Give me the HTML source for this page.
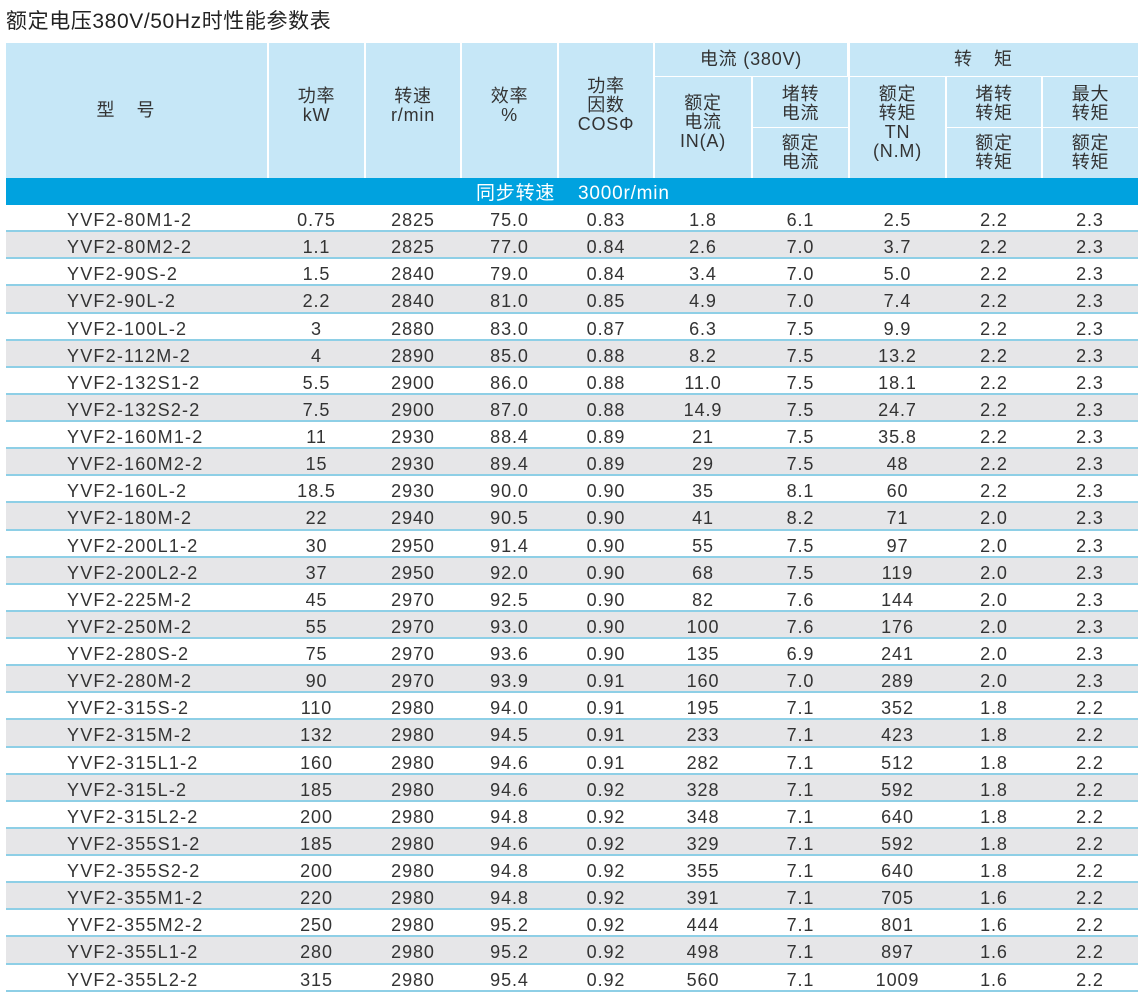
<!DOCTYPE html>
<html><head><meta charset="utf-8"><style>
*{margin:0;padding:0;box-sizing:border-box}
body{width:1144px;height:1000px;background:#fff;font-family:"Liberation Sans","Noto Sans CJK SC",sans-serif;color:#333;position:relative;overflow:hidden}
.title{position:absolute;left:6px;top:5px;font-size:21px;color:#222;letter-spacing:0.6px}
.hc{position:absolute;background:#c6e7f7;display:flex;align-items:center;justify-content:center;text-align:center;font-size:18px;line-height:19px;color:#333;letter-spacing:0.8px}
.band{position:absolute;left:6px;top:178px;width:1132px;height:27px;background:#00a2df;color:#fff;font-size:19px;line-height:32px;letter-spacing:0.8px}
.band span{position:absolute}
.rows{position:absolute;left:6px;top:205px;width:1132px}
.r{display:flex;height:27.14px;border-bottom:2px solid #8ecfe6;font-size:18px;letter-spacing:0.9px;line-height:30px;overflow:hidden}
.r:nth-child(even){background:#e6e6e8}
.r span{text-align:center;flex:none}
.r span:nth-child(1){width:262px;text-align:left;padding-left:61px;letter-spacing:1.2px}
.r span:nth-child(2){width:97px}.r span:nth-child(3){width:96px}.r span:nth-child(4){width:97px}.r span:nth-child(5){width:96px}.r span:nth-child(6){width:98px}.r span:nth-child(7){width:97px}.r span:nth-child(8){width:97px}.r span:nth-child(9){width:96px}.r span:nth-child(10){width:96px}
</style></head><body>
<div class="title">额定电压380V/50Hz时性能参数表</div>
<div class="hc" style="left:6px;top:43px;width:261px;height:135px;letter-spacing:22px">型号</div>
<div class="hc" style="left:269px;top:43px;width:95px;height:135px;padding-bottom:10px">功率<br>kW</div>
<div class="hc" style="left:366px;top:43px;width:94px;height:135px;padding-bottom:10px">转速<br>r/min</div>
<div class="hc" style="left:462px;top:43px;width:95px;height:135px;padding-bottom:10px">效率<br>%</div>
<div class="hc" style="left:559px;top:43px;width:94px;height:135px;padding-bottom:10px">功率<br>因数<br>COSΦ</div>
<div class="hc" style="left:655px;top:43px;width:192px;height:33px">电流 (380V)</div>
<div class="hc" style="left:850px;top:43px;width:288px;height:33px;letter-spacing:22px">转矩</div>
<div class="hc" style="left:655px;top:77px;width:96px;height:101px;padding-bottom:10px">额定<br>电流<br>IN(A)</div>
<div class="hc" style="left:753px;top:77px;width:95px;height:50px;padding-top:4px">堵转<br>电流</div>
<div class="hc" style="left:753px;top:128px;width:95px;height:50px">额定<br>电流</div>
<div class="hc" style="left:850px;top:77px;width:95px;height:101px;padding-bottom:10px">额定<br>转矩<br>TN<br>(N.M)</div>
<div class="hc" style="left:947px;top:77px;width:94px;height:50px;padding-top:4px">堵转<br>转矩</div>
<div class="hc" style="left:947px;top:128px;width:94px;height:50px">额定<br>转矩</div>
<div class="hc" style="left:1043px;top:77px;width:95px;height:50px;padding-top:4px">最大<br>转矩</div>
<div class="hc" style="left:1043px;top:128px;width:95px;height:50px">额定<br>转矩</div>
<div class="band"><span style="left:470px">同步转速</span><span style="left:572px">3000r/min</span></div>
<div class="rows">
<div class="r"><span>YVF2-80M1-2</span><span>0.75</span><span>2825</span><span>75.0</span><span>0.83</span><span>1.8</span><span>6.1</span><span>2.5</span><span>2.2</span><span>2.3</span></div>
<div class="r"><span>YVF2-80M2-2</span><span>1.1</span><span>2825</span><span>77.0</span><span>0.84</span><span>2.6</span><span>7.0</span><span>3.7</span><span>2.2</span><span>2.3</span></div>
<div class="r"><span>YVF2-90S-2</span><span>1.5</span><span>2840</span><span>79.0</span><span>0.84</span><span>3.4</span><span>7.0</span><span>5.0</span><span>2.2</span><span>2.3</span></div>
<div class="r"><span>YVF2-90L-2</span><span>2.2</span><span>2840</span><span>81.0</span><span>0.85</span><span>4.9</span><span>7.0</span><span>7.4</span><span>2.2</span><span>2.3</span></div>
<div class="r"><span>YVF2-100L-2</span><span>3</span><span>2880</span><span>83.0</span><span>0.87</span><span>6.3</span><span>7.5</span><span>9.9</span><span>2.2</span><span>2.3</span></div>
<div class="r"><span>YVF2-112M-2</span><span>4</span><span>2890</span><span>85.0</span><span>0.88</span><span>8.2</span><span>7.5</span><span>13.2</span><span>2.2</span><span>2.3</span></div>
<div class="r"><span>YVF2-132S1-2</span><span>5.5</span><span>2900</span><span>86.0</span><span>0.88</span><span>11.0</span><span>7.5</span><span>18.1</span><span>2.2</span><span>2.3</span></div>
<div class="r"><span>YVF2-132S2-2</span><span>7.5</span><span>2900</span><span>87.0</span><span>0.88</span><span>14.9</span><span>7.5</span><span>24.7</span><span>2.2</span><span>2.3</span></div>
<div class="r"><span>YVF2-160M1-2</span><span>11</span><span>2930</span><span>88.4</span><span>0.89</span><span>21</span><span>7.5</span><span>35.8</span><span>2.2</span><span>2.3</span></div>
<div class="r"><span>YVF2-160M2-2</span><span>15</span><span>2930</span><span>89.4</span><span>0.89</span><span>29</span><span>7.5</span><span>48</span><span>2.2</span><span>2.3</span></div>
<div class="r"><span>YVF2-160L-2</span><span>18.5</span><span>2930</span><span>90.0</span><span>0.90</span><span>35</span><span>8.1</span><span>60</span><span>2.2</span><span>2.3</span></div>
<div class="r"><span>YVF2-180M-2</span><span>22</span><span>2940</span><span>90.5</span><span>0.90</span><span>41</span><span>8.2</span><span>71</span><span>2.0</span><span>2.3</span></div>
<div class="r"><span>YVF2-200L1-2</span><span>30</span><span>2950</span><span>91.4</span><span>0.90</span><span>55</span><span>7.5</span><span>97</span><span>2.0</span><span>2.3</span></div>
<div class="r"><span>YVF2-200L2-2</span><span>37</span><span>2950</span><span>92.0</span><span>0.90</span><span>68</span><span>7.5</span><span>119</span><span>2.0</span><span>2.3</span></div>
<div class="r"><span>YVF2-225M-2</span><span>45</span><span>2970</span><span>92.5</span><span>0.90</span><span>82</span><span>7.6</span><span>144</span><span>2.0</span><span>2.3</span></div>
<div class="r"><span>YVF2-250M-2</span><span>55</span><span>2970</span><span>93.0</span><span>0.90</span><span>100</span><span>7.6</span><span>176</span><span>2.0</span><span>2.3</span></div>
<div class="r"><span>YVF2-280S-2</span><span>75</span><span>2970</span><span>93.6</span><span>0.90</span><span>135</span><span>6.9</span><span>241</span><span>2.0</span><span>2.3</span></div>
<div class="r"><span>YVF2-280M-2</span><span>90</span><span>2970</span><span>93.9</span><span>0.91</span><span>160</span><span>7.0</span><span>289</span><span>2.0</span><span>2.3</span></div>
<div class="r"><span>YVF2-315S-2</span><span>110</span><span>2980</span><span>94.0</span><span>0.91</span><span>195</span><span>7.1</span><span>352</span><span>1.8</span><span>2.2</span></div>
<div class="r"><span>YVF2-315M-2</span><span>132</span><span>2980</span><span>94.5</span><span>0.91</span><span>233</span><span>7.1</span><span>423</span><span>1.8</span><span>2.2</span></div>
<div class="r"><span>YVF2-315L1-2</span><span>160</span><span>2980</span><span>94.6</span><span>0.91</span><span>282</span><span>7.1</span><span>512</span><span>1.8</span><span>2.2</span></div>
<div class="r"><span>YVF2-315L-2</span><span>185</span><span>2980</span><span>94.6</span><span>0.92</span><span>328</span><span>7.1</span><span>592</span><span>1.8</span><span>2.2</span></div>
<div class="r"><span>YVF2-315L2-2</span><span>200</span><span>2980</span><span>94.8</span><span>0.92</span><span>348</span><span>7.1</span><span>640</span><span>1.8</span><span>2.2</span></div>
<div class="r"><span>YVF2-355S1-2</span><span>185</span><span>2980</span><span>94.6</span><span>0.92</span><span>329</span><span>7.1</span><span>592</span><span>1.8</span><span>2.2</span></div>
<div class="r"><span>YVF2-355S2-2</span><span>200</span><span>2980</span><span>94.8</span><span>0.92</span><span>355</span><span>7.1</span><span>640</span><span>1.8</span><span>2.2</span></div>
<div class="r"><span>YVF2-355M1-2</span><span>220</span><span>2980</span><span>94.8</span><span>0.92</span><span>391</span><span>7.1</span><span>705</span><span>1.6</span><span>2.2</span></div>
<div class="r"><span>YVF2-355M2-2</span><span>250</span><span>2980</span><span>95.2</span><span>0.92</span><span>444</span><span>7.1</span><span>801</span><span>1.6</span><span>2.2</span></div>
<div class="r"><span>YVF2-355L1-2</span><span>280</span><span>2980</span><span>95.2</span><span>0.92</span><span>498</span><span>7.1</span><span>897</span><span>1.6</span><span>2.2</span></div>
<div class="r"><span>YVF2-355L2-2</span><span>315</span><span>2980</span><span>95.4</span><span>0.92</span><span>560</span><span>7.1</span><span>1009</span><span>1.6</span><span>2.2</span></div>
</div>
</body></html>
